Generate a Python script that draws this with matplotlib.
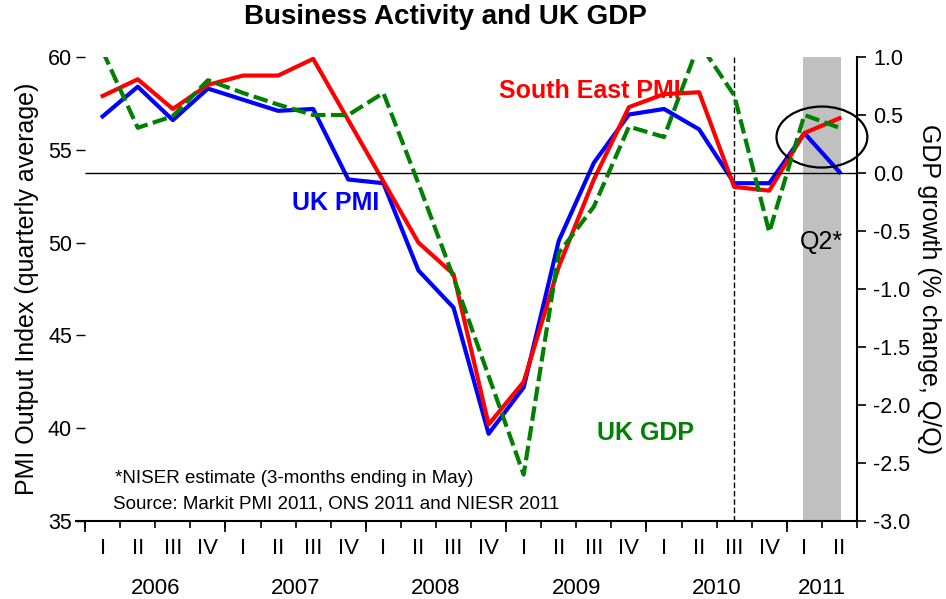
import matplotlib
matplotlib.use("Agg")
import matplotlib.pyplot as plt
from matplotlib.patches import Ellipse

plt.rcParams["font.family"] = ["Liberation Sans", "DejaVu Sans"]
plt.rcParams["axes.unicode_minus"] = False

# quarterly data, 2006 Q1 .. 2011 Q2
quarter_labels = ["I", "II", "III", "IV"] * 5 + ["I", "II"]
years = ["2006", "2007", "2008", "2009", "2010", "2011"]
uk_pmi = [56.8, 58.4, 56.6, 58.3, 57.7, 57.1, 57.2, 53.4, 53.2, 48.5, 46.5,
          39.7, 42.2, 50.1, 54.3, 56.9, 57.2, 56.1, 53.2, 53.2, 55.9, 53.8]
se_pmi = [57.9, 58.8, 57.2, 58.5, 59.0, 59.0, 59.9, 56.6, 53.3, 50.0, 48.3,
          40.2, 42.5, 48.7, 53.4, 57.3, 58.0, 58.1, 53.0, 52.8, 55.9, 56.7]
uk_gdp = [1.05, 0.39, 0.49, 0.80, 0.69, 0.59, 0.50, 0.50, 0.69, -0.09, -0.90,
          -1.75, -2.60, -0.69, -0.29, 0.40, 0.31, 1.12, 0.67, -0.51, 0.50, 0.39]

n = len(quarter_labels)
x = [i + 0.5 for i in range(n)]
year_starts = list(range(0, n, 4))
year_mids = [s + min(4, n - s) / 2 for s in year_starts]

fig = plt.figure(figsize=(9.46, 5.99), dpi=100)
ax = fig.add_axes([76 / 946, 1 - 521 / 599, (857 - 76) / 946, (521 - 57) / 599])
ax2 = ax.twinx()

# estimate band and the break line
ax.axvspan(20.45, 21.53, color="#c0c0c0", lw=0, zorder=0)
ax.axvline(18.5, color="black", lw=1, ls=(0, (4, 2)), zorder=1)

ax.plot(x, uk_pmi, color="#0000ff", lw=3, zorder=3)
ax.plot(x, se_pmi, color="#ff0000", lw=3, zorder=4)
ax2.hlines(0, 0, n, color="black", lw=1)
ax2.plot(x, uk_gdp, color="#008000", lw=3, dashes=(3.5, 1.3))
ax2.add_patch(Ellipse((21.0, 0.31), 2.59, 0.526, fill=False, lw=1.6,
                      ec="black", clip_on=False))

ax.set_xlim(-0.26, n)
ax.set_ylim(35, 60)
ax2.set_ylim(-3.0, 1.0)

for a in (ax, ax2):
    a.spines["top"].set_visible(False)
    a.spines["left"].set_visible(False)
ax.spines["left"].set_position(("data", 0))
ax2.spines["right"].set_linewidth(1.5)
ax.spines["right"].set_visible(False)
ax2.spines["bottom"].set_visible(False)
ax.spines["bottom"].set_linewidth(1.5)

ax.set_yticks([35, 40, 45, 50, 55, 60])
ax.tick_params(axis="y", length=6.5, width=1, pad=3, labelsize=15.5)
ax2.set_yticks([-3.0, -2.5, -2.0, -1.5, -1.0, -0.5, 0.0, 0.5, 1.0])
ax2.set_yticklabels([f"{v:.1f}" for v in ax2.get_yticks()])
ax2.tick_params(axis="y", length=6.5, width=1.2, pad=5, labelsize=15.5)

# quarter labels and quarter boundary ticks
ax.set_xticks(x, quarter_labels)
ax.set_xticks(range(n + 1), minor=True)
ax.tick_params(axis="x", which="major", length=0, pad=12, labelsize=16)
ax.tick_params(axis="x", which="minor", length=5, width=1.2)

# year boundary ticks and year labels
sec = ax.secondary_xaxis("bottom")
sec.spines["bottom"].set_visible(False)
sec.set_xticks(year_starts, [""] * len(year_starts))
sec.set_xticks(year_mids, years, minor=True)
sec.tick_params(axis="x", which="major", length=8, width=1.2)
sec.tick_params(axis="x", which="minor", length=0, pad=41, labelsize=16)

ax.set_ylabel("PMI Output Index (quarterly average)", fontsize=18, labelpad=6)
ax2.set_ylabel("GDP growth (% change, Q/Q)", fontsize=18, rotation=270,
               labelpad=22)

fig.text(445 / 946, 1 - 17 / 599, "Business Activity and UK GDP",
         ha="center", va="center", fontsize=20, fontweight="bold")

ax.text(14.39, 58.17, "South East PMI", color="#ff0000", fontsize=18,
        fontweight="bold", ha="center", va="center", zorder=2)
ax.text(7.15, 52.13, "UK PMI", color="#0000ff", fontsize=18,
        fontweight="bold", ha="center", va="center")
ax.text(15.98, 39.74, "UK GDP", color="#008000", fontsize=18,
        fontweight="bold", ha="center", va="center")
ax.text(21.0, 50.03, "Q2*", color="black", fontsize=18,
        ha="center", va="center")
ax.text(0.85, 37.3, "*NISER estimate (3-months ending in May)",
        fontsize=13.5, ha="left", va="center")
ax.text(0.8, 35.9, "Source: Markit PMI 2011, ONS 2011 and NIESR 2011",
        fontsize=13.5, ha="left", va="center")

fig.savefig("out.png", dpi=100)
